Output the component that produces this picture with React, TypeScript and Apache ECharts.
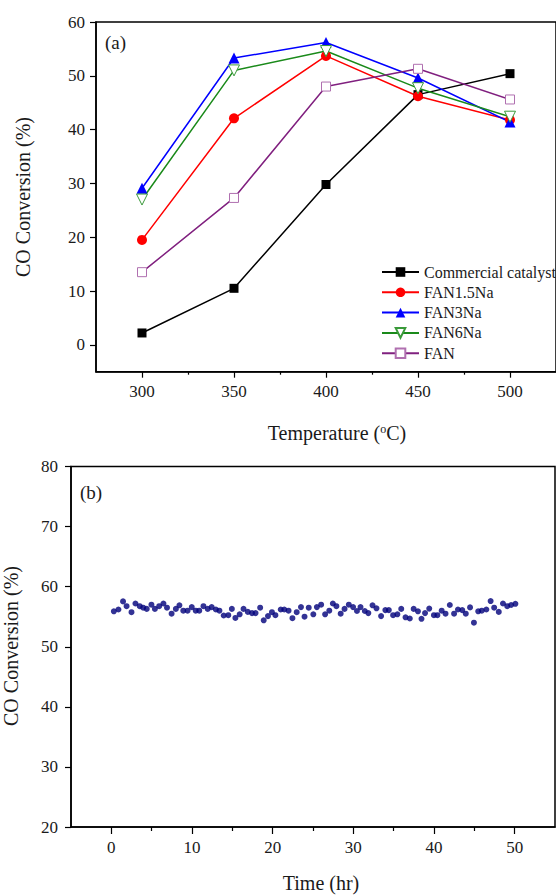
import React, { useEffect, useRef } from "react";
import * as echarts from "echarts";

const FONT = "Liberation Serif";

// Panel (a): CO conversion vs temperature
const temperatures = [300, 350, 400, 450, 500];
const commercialCatalyst = [2.2, 10.5, 29.8, 46.5, 50.4];
const fan15Na = [19.5, 42.1, 53.7, 46.2, 41.8];
const fan3Na = [29.1, 53.3, 56.2, 49.6, 41.4];
const fan6Na = [27.0, 51.0, 54.6, 47.7, 42.4];
const fanPlain = [13.5, 27.3, 48.0, 51.3, 45.6];

const tempTicks = [300, 350, 400, 450, 500];
const tempMinorTicks = [325, 375, 425, 475];
const convTicksA = [0, 10, 20, 30, 40, 50, 60];

// Panel (b): stability test
const timeHours = [
  0.31, 0.88, 1.45, 1.89, 2.5, 2.99, 3.52, 3.95, 4.39, 4.97,
  5.4, 5.93, 6.46, 6.9, 7.47, 8.0, 8.44, 8.92, 9.45, 9.97,
  10.46, 10.9, 11.42, 11.95, 12.44, 12.96, 13.4, 13.93, 14.5, 14.94,
  15.38, 15.91, 16.39, 16.92, 17.44, 17.88, 18.45, 18.89, 19.42, 19.91,
  20.34, 21.0, 21.44, 21.97, 22.45, 22.98, 23.51, 23.95, 24.47, 25.04,
  25.48, 26.01, 26.5, 27.02, 27.46, 27.9, 28.43, 28.91, 29.44, 29.97,
  30.45, 30.89, 31.42, 31.86, 32.38, 32.87, 33.44, 33.97, 34.4, 34.93,
  35.46, 35.94, 36.47, 37.0, 37.48, 38.01, 38.45, 38.89, 39.41, 39.99,
  40.42, 40.95, 41.43, 41.96, 42.49, 42.97, 43.5, 43.94, 44.47, 44.95,
  45.48, 45.92, 46.49, 47.02, 47.46, 48.03, 48.55, 49.08, 49.56, 50.09,
];
const stabilityConversion = [
  55.9, 56.2, 57.55, 56.75, 55.75, 57.2, 56.75, 56.5, 56.3, 57.0,
  56.3, 56.75, 57.2, 56.5, 55.5, 56.3, 56.9, 56.0, 56.0, 56.6,
  56.0, 56.0, 56.75, 56.3, 56.6, 56.2, 56.0, 55.2, 55.25, 56.3,
  54.8, 55.4, 56.3, 55.8, 55.6, 55.6, 56.5, 54.4, 55.1, 55.75,
  55.25, 56.2, 56.2, 56.0, 54.75, 55.75, 56.6, 55.0, 56.5, 55.4,
  56.6, 57.0, 55.4, 56.0, 57.2, 56.75, 55.5, 56.3, 57.0, 56.6,
  55.95, 56.6, 55.95, 55.6, 56.9, 56.4, 55.1, 56.1, 56.1, 55.25,
  55.4, 56.3, 54.9, 54.7, 56.3, 55.9, 54.65, 55.6, 56.35, 55.25,
  55.25, 56.0, 55.5, 56.95, 55.5, 56.2, 56.1, 55.5, 56.55, 54.0,
  55.9, 56.0, 56.2, 57.6, 56.5, 55.8, 57.2, 56.75, 56.95, 57.15,
];
const timeTicks = [0, 10, 20, 30, 40, 50];
const timeMinorTicks = [5, 15, 25, 35, 45];
const convTicksB = [20, 30, 40, 50, 60, 70, 80];

const pair = (xs: number[], ys: number[]) => xs.map((x, i) => [x, ys[i]]);

const labelStyle = { fontFamily: FONT, fontSize: 17, color: "#1a1a1a" };

export default function App() {
  const ref = useRef<HTMLDivElement>(null);
  useEffect(() => {
    document.body.style.margin = "0";
    const chart = echarts.init(ref.current!, null, { renderer: "svg" });
    const axisLine = { show: true, onZero: false, lineStyle: { color: "#000", width: 1.5 } };
    const tickLine = { color: "#000", width: 1.2 };
    const option: any = {
      animation: false,
      backgroundColor: "#fff",
      grid: [
        { left: 96, top: 22, width: 470.75, height: 349.7, show: true, borderColor: "#000", borderWidth: 1.5, backgroundColor: "transparent" },
        { left: 71, top: 466.5, width: 484, height: 360.5, show: true, borderColor: "#000", borderWidth: 1.5, backgroundColor: "transparent" },
      ],
      xAxis: [
        {
          type: "value", gridIndex: 0, min: 275, max: 525, position: "bottom",
          axisLine, splitLine: { show: false },
          axisTick: { show: true, length: 6, customValues: tempTicks, lineStyle: tickLine },
          axisLabel: { ...labelStyle, margin: 11, customValues: tempTicks },
        },
        {
          type: "value", gridIndex: 0, min: 275, max: 525, position: "bottom",
          axisLine: { show: false, onZero: false }, splitLine: { show: false },
          axisTick: { show: true, length: 3, customValues: tempMinorTicks, lineStyle: tickLine },
          axisLabel: { show: false },
        },
        {
          type: "value", gridIndex: 1, min: -5, max: 55, position: "bottom",
          axisLine, splitLine: { show: false },
          axisTick: { show: true, length: 7, customValues: timeTicks, lineStyle: tickLine },
          axisLabel: { ...labelStyle, margin: 12, customValues: timeTicks },
        },
        {
          type: "value", gridIndex: 1, min: -5, max: 55, position: "bottom",
          axisLine: { show: false, onZero: false }, splitLine: { show: false },
          axisTick: { show: true, length: 4, customValues: timeMinorTicks, lineStyle: tickLine },
          axisLabel: { show: false },
        },
      ],
      yAxis: [
        {
          type: "value", gridIndex: 0, min: -5, max: 60, position: "left",
          axisLine, splitLine: { show: false },
          axisTick: { show: true, length: 6, customValues: convTicksA, lineStyle: tickLine },
          axisLabel: { ...labelStyle, margin: 11, customValues: convTicksA },
        },
        {
          type: "value", gridIndex: 1, min: 20, max: 80, position: "left",
          axisLine, splitLine: { show: false },
          axisTick: { show: true, length: 6, customValues: convTicksB, lineStyle: tickLine },
          axisLabel: { ...labelStyle, margin: 13, customValues: convTicksB },
        },
      ],
      legend: {
        orient: "vertical",
        left: 376,
        top: 259,
        itemWidth: 37,
        itemHeight: 12,
        itemGap: 4.3,
        textStyle: { fontFamily: FONT, fontSize: 16, color: "#1a1a1a", lineHeight: 16 },
        data: ["Commercial catalyst", "FAN1.5Na", "FAN3Na", "FAN6Na", "FAN"],
      },
      series: [
        {
          name: "Commercial catalyst", type: "line", xAxisIndex: 0, yAxisIndex: 0,
          data: pair(temperatures, commercialCatalyst),
          symbol: "rect", symbolSize: 9,
          lineStyle: { color: "#000", width: 1.5 }, itemStyle: { color: "#000" },
        },
        {
          name: "FAN1.5Na", type: "line", xAxisIndex: 0, yAxisIndex: 0,
          data: pair(temperatures, fan15Na),
          symbol: "circle", symbolSize: 10,
          lineStyle: { color: "#ff0000", width: 1.5 }, itemStyle: { color: "#ff0000" },
        },
        {
          name: "FAN3Na", type: "line", xAxisIndex: 0, yAxisIndex: 0,
          data: pair(temperatures, fan3Na),
          symbol: "triangle", symbolSize: 11,
          lineStyle: { color: "#0000ff", width: 1.5 }, itemStyle: { color: "#0000ff" },
        },
        {
          name: "FAN6Na", type: "line", xAxisIndex: 0, yAxisIndex: 0,
          data: pair(temperatures, fan6Na),
          symbol: "triangle", symbolRotate: 180, symbolSize: 11,
          lineStyle: { color: "#1a8a1a", width: 1.5 },
          itemStyle: { color: "#ffffff", borderColor: "#3a9a3a", borderWidth: 1 },
        },
        {
          name: "FAN", type: "line", xAxisIndex: 0, yAxisIndex: 0,
          data: pair(temperatures, fanPlain),
          symbol: "rect", symbolSize: 9,
          lineStyle: { color: "#80207f", width: 1.5 },
          itemStyle: { color: "#ffffff", borderColor: "#b070b0", borderWidth: 1 },
        },
        {
          name: "Stability", type: "scatter", xAxisIndex: 2, yAxisIndex: 1,
          data: pair(timeHours, stabilityConversion),
          symbol: "circle", symbolSize: 6,
          itemStyle: { color: "#00007a" },
        },
      ],
      graphic: [
        { type: "text", x: 105, y: 42, style: { text: "(a)", font: `19px ${FONT}`, fill: "#1a1a1a", align: "left", verticalAlign: "middle" } },
        { type: "text", x: 80, y: 492, style: { text: "(b)", font: `19px ${FONT}`, fill: "#1a1a1a", align: "left", verticalAlign: "middle" } },
        {
          type: "text", x: 337, y: 433,
          style: {
            text: "Temperature ({sup|o}C)", font: `20px ${FONT}`, fill: "#1a1a1a", align: "center", verticalAlign: "middle",
            rich: { sup: { fontSize: 12, fontFamily: FONT, verticalAlign: "top", fill: "#1a1a1a" } },
          },
        },
        { type: "text", x: 23, y: 197, rotation: Math.PI / 2, style: { text: "CO Conversion (%)", font: `20px ${FONT}`, fill: "#1a1a1a", align: "center", verticalAlign: "middle" } },
        { type: "text", x: 11, y: 646, rotation: Math.PI / 2, style: { text: "CO Conversion (%)", font: `20px ${FONT}`, fill: "#1a1a1a", align: "center", verticalAlign: "middle" } },
        { type: "text", x: 321, y: 883, style: { text: "Time (hr)", font: `20px ${FONT}`, fill: "#1a1a1a", align: "center", verticalAlign: "middle" } },
      ],
    };
    chart.setOption(option);
    return () => chart.dispose();
  }, []);
  return <div ref={ref} style={{ width: 556, height: 896 }} />;
}
